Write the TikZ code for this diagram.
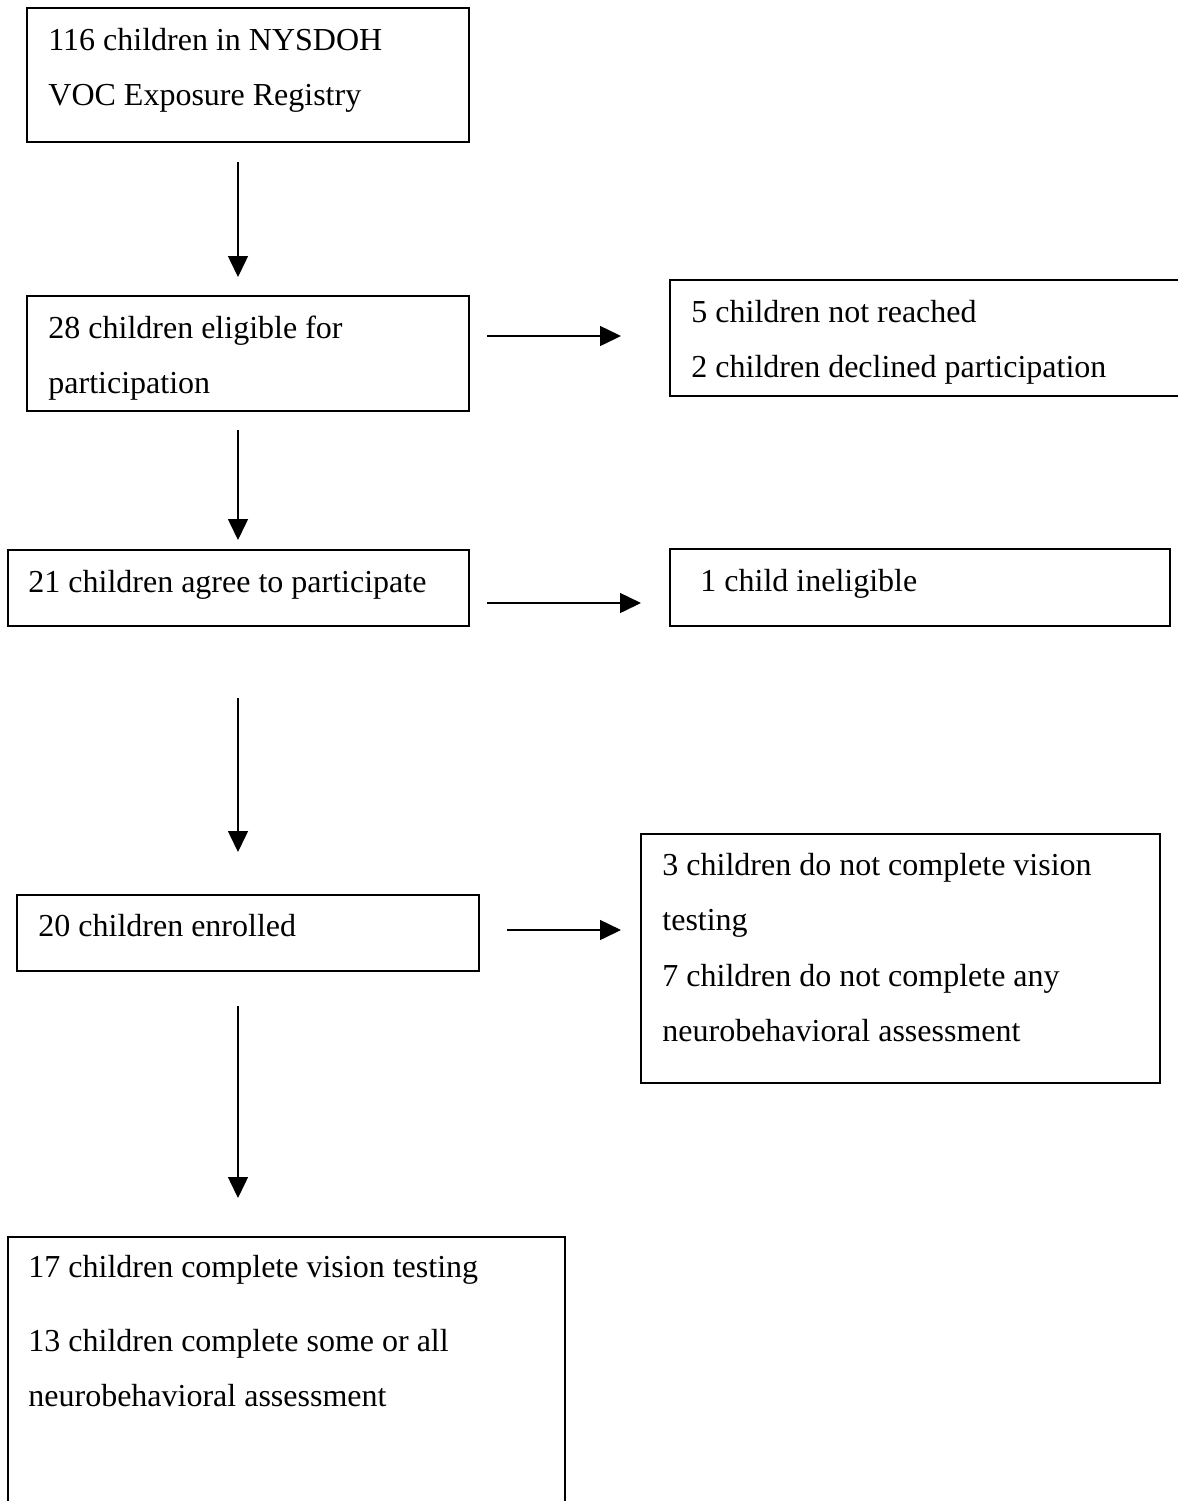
\documentclass[tikz,border=0pt]{standalone}
\usepackage{fontspec}
\setmainfont{Liberation Serif}
\usetikzlibrary{arrows.meta}
\begin{document}
\begin{tikzpicture}[x=0.5pt,y=-0.5pt,
  box/.style={draw=black, line width=1pt, rectangle, inner sep=0pt, outer sep=0pt, anchor=north west},
  txt/.style={anchor=base west, inner sep=0pt, font=\fontsize{16pt}{19pt}\selectfont},
  arr/.style={draw=black, line width=0.75pt, -{Triangle[length=10.5pt,width=10pt]}}]
\useasboundingbox (0,0) rectangle (1178,1501);
\begin{scope}
\clip (0,0) rectangle (1178,1501);
% boxes
\node[box, minimum width=221pt, minimum height=67pt] (b1) at (27,8) {};
\node[box, minimum width=221pt, minimum height=57.5pt] (b2) at (27,296) {};
\node[box, minimum width=262pt, minimum height=58pt] (b3) at (670,280) {};
\node[box, minimum width=230.5pt, minimum height=38pt] (b4) at (8,550) {};
\node[box, minimum width=250pt, minimum height=38.5pt] (b5) at (670,549) {};
\node[box, minimum width=231pt, minimum height=38pt] (b6) at (17,895) {};
\node[box, minimum width=259.5pt, minimum height=124.5pt] (b7) at (641,834) {};
\node[box, minimum width=278.5pt, minimum height=145pt] (b8) at (8,1237) {};
\end{scope}
% texts
\node[txt] (t1a) at (48,50) {116 children in NYSDOH};
\node[txt] (t1b) at (48,105) {VOC Exposure Registry};
\node[txt] (t2a) at (48,338) {28 children eligible for};
\node[txt] (t2b) at (48,393) {participation};
\node[txt] (t3a) at (691,322) {5 children not reached};
\node[txt] (t3b) at (691,377) {2 children declined participation};
\node[txt] (t4) at (28,592) {21 children agree to participate};
\node[txt] (t5) at (700,591) {1 child ineligible};
\node[txt] (t6) at (38,936) {20 children enrolled};
\node[txt] (t7a) at (662,875) {3 children do not complete vision};
\node[txt] (t7b) at (662,930) {testing};
\node[txt] (t7c) at (662,986) {7 children do not complete any};
\node[txt] (t7d) at (662,1041) {neurobehavioral assessment};
\node[txt] (t8a) at (28,1277) {17 children complete vision testing};
\node[txt] (t8b) at (28,1351) {13 children complete some or all};
\node[txt] (t8c) at (28,1406) {neurobehavioral assessment};
% arrow guides
\coordinate (vx) at (238,0);
\coordinate (h1) at (0,336);
\coordinate (h2) at (0,603);
\coordinate (h3) at (0,930);
% vertical arrows
\draw[arr, shorten <=10pt, shorten >=9.5pt] (b1.south -| vx) -- (b2.north -| vx);
\draw[arr, shorten <=9.5pt, shorten >=5pt] (b2.south -| vx) -- (b4.north -| vx);
\draw[arr, shorten <=36pt, shorten >=21.5pt] (b4.south -| vx) -- (b6.north -| vx);
\draw[arr, shorten <=17.5pt, shorten >=19.5pt] (b6.south -| vx) -- (b8.north -| vx);
% horizontal arrows
\draw[arr, shorten <=9pt, shorten >=24.5pt] (b2.east |- h1) -- (b3.west |- h1);
\draw[arr, shorten <=9pt, shorten >=14.5pt] (b4.east |- h2) -- (b5.west |- h2);
\draw[arr, shorten <=14pt, shorten >=10pt] (b6.east |- h3) -- (b7.west |- h3);
\end{tikzpicture}
\end{document}
